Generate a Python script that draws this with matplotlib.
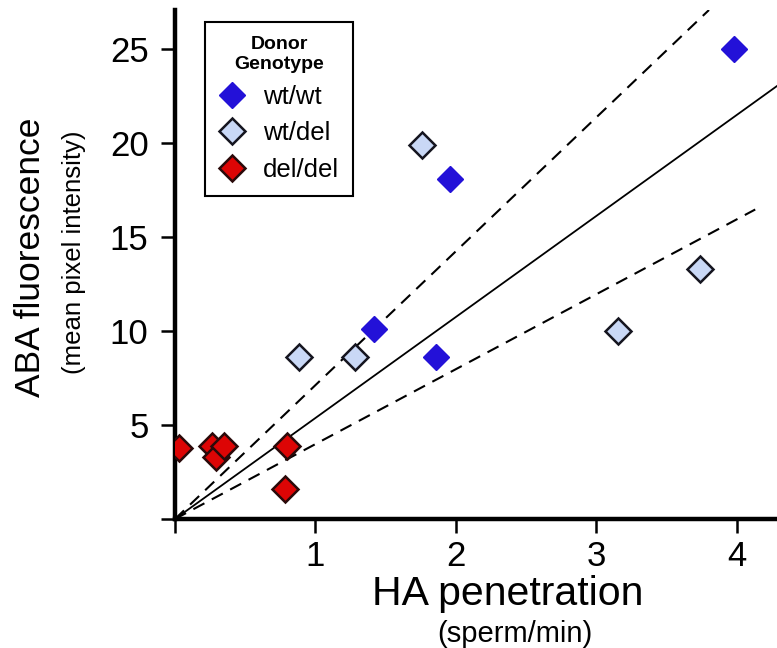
import matplotlib
matplotlib.use("Agg")
import matplotlib.pyplot as plt
import numpy as np

plt.rcParams['font.family'] = ['Liberation Sans', 'DejaVu Sans']
plt.rcParams['lines.scale_dashes'] = False

# data
wtwt_x = [3.98, 1.96, 1.42, 1.86]
wtwt_y = [25.0, 18.1, 10.1, 8.6]
wtdel_x = [1.76, 0.88, 1.28, 3.15, 3.74]
wtdel_y = [19.9, 8.6, 8.6, 10.0, 13.3]
deldel_x = [0.03, 0.26, 0.29, 0.35, 0.78, 0.80]
deldel_y = [3.8, 3.9, 3.3, 3.9, 1.6, 3.9]

# fitted line through origin and its bounds
fit_slope = 5.38
upper_slope = 7.13
lower_slope = 3.99
lower_end = 4.13

xmax = 4.285
ymax = 27.1

fig = plt.figure(figsize=(7.77, 6.48), dpi=100)
ax = fig.add_axes([175 / 777, 1 - 519 / 648, 602 / 777, 509 / 648])

xs = np.array([0, xmax])
ax.plot(xs, fit_slope * xs, color='black', lw=1.3, zorder=2)
ax.plot([0, ymax / upper_slope], [0, ymax], color='black', lw=1.5,
        dashes=[9, 6], zorder=2)
ax.plot([0, lower_end], [0, lower_slope * lower_end], color='black', lw=1.5,
        dashes=[9, 6], zorder=2)

ms = 13.5
ax.plot(wtwt_x, wtwt_y, 'D', ms=ms, color='#2311d8', mec='#2311d8',
        ls='none', label='wt/wt', zorder=3)
ax.plot(wtdel_x, wtdel_y, 'D', ms=ms, color='#c9d8f6', mec='#15151f',
        mew=1.8, ls='none', label='wt/del', zorder=3)
ax.plot(deldel_x, deldel_y, 'D', ms=ms, color='#dd0505', mec='#2a0a0a',
        mew=1.8, ls='none', label='del/del', zorder=3)

ax.set_xlim(0, xmax)
ax.set_ylim(0, ymax)
ax.set_xticks([0, 1, 2, 3, 4])
ax.set_xticklabels(['', '1', '2', '3', '4'])
ax.set_yticks([0, 5, 10, 15, 20, 25])
ax.set_yticklabels(['', '5', '10', '15', '20', '25'])
ax.tick_params(labelsize=25, length=10, width=1.8, pad=5)
ax.tick_params(axis='y', pad=9)

for s in ['top', 'right']:
    ax.spines[s].set_visible(False)
for s in ['left', 'bottom']:
    ax.spines[s].set_linewidth(3.2)

leg = ax.legend(loc='upper left', bbox_to_anchor=(30 / 602, 1 - 12 / 509),
                borderaxespad=0, fontsize=18.5, title='Donor\nGenotype',
                title_fontproperties={'weight': 'bold', 'size': 14},
                frameon=True, fancybox=False, framealpha=1, edgecolor='black',
                handletextpad=0.7, borderpad=0.55, labelspacing=0.48,
                handlelength=1.0, markerscale=1.0)
leg.get_frame().set_linewidth(1.5)
leg.get_title().set_multialignment('center')

fig.text(31 / 777, 1 - 257 / 648, 'ABA fluorescence', rotation=90,
         fontsize=25.5, ha='center', va='center')
fig.text(74 / 777, 1 - 252 / 648, '(mean pixel intensity)', rotation=90,
         fontsize=18.5, ha='center', va='center')
fig.text(508 / 777, 1 - 594 / 648, 'HA penetration',
         fontsize=29.5, ha='center', va='center')
fig.text(515 / 777, 1 - 634 / 648, '(sperm/min)',
         fontsize=21, ha='center', va='center')

fig.savefig('out.png', dpi=100)
